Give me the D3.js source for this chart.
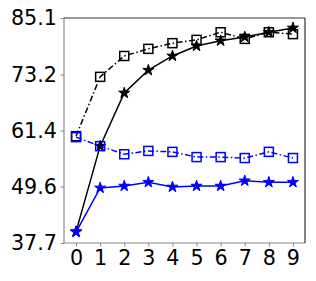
<!DOCTYPE html>
<html>
<head>
<meta charset="utf-8">
<script src="https://cdn.jsdelivr.net/npm/d3@7"></script>
<style>
body { margin: 0; background: #fff; }
svg { display: block; }
</style>
</head>
<body>
<div id="chart"></div>
<script>
// data
var steps = [0, 1, 2, 3, 4, 5, 6, 7, 8, 9];
var yTicks = [37.7, 49.6, 61.4, 73.2, 85.1];
var blackSquare = [60.2, 72.7, 77.1, 78.6, 79.8, 80.5, 82.1, 80.7, 82.1, 81.7];
var blackStar = [40.1, 58.1, 69.3, 74.1, 77.1, 79.2, 80.3, 81.1, 82.1, 83.0];
var blueSquare = [60.0, 58.1, 56.4, 57.1, 56.9, 55.8, 55.8, 55.6, 56.9, 55.6];
var blueStar = [40.0, 49.3, 49.7, 50.5, 49.5, 49.7, 49.7, 50.8, 50.5, 50.5];

var margin = {top: 18, right: 11, bottom: 38, left: 64},
    width = 316 - margin.left - margin.right,
    height = 281 - margin.top - margin.bottom;

var x = d3.scaleLinear().domain([-0.5, 9.5]).range([0, width]);
var y = d3.scaleLinear().domain([37.7, 85.1]).range([height, 0]);

var svg = d3.select("#chart").append("svg")
  .attr("width", 316)
  .attr("height", 281)
  .append("g")
  .attr("transform", "translate(" + margin.left + "," + margin.top + ")");

var font = "DejaVu Sans, sans-serif";

// axes
var xAxis = svg.append("g")
  .attr("transform", "translate(0," + height + ")")
  .call(d3.axisBottom(x).tickValues(steps).tickFormat(d3.format("d")).tickSizeInner(3.5).tickSizeOuter(0).tickPadding(4));
var yAxis = svg.append("g")
  .call(d3.axisLeft(y).tickValues(yTicks).tickFormat(d3.format(".1f")).tickSizeInner(3.5).tickSizeOuter(0).tickPadding(3.5));

[xAxis, yAxis].forEach(function(a) {
  a.select(".domain").remove();
  a.selectAll("line").attr("stroke", "#888").attr("stroke-width", 1);
  a.selectAll("text").attr("fill", "#000").style("font-family", font).style("font-size", "20.7px");
});

// spines
svg.append("line").attr("x1", 0).attr("x2", 0).attr("y1", 0).attr("y2", height).attr("stroke", "#888").attr("stroke-width", 1.2);
svg.append("line").attr("x1", 0).attr("x2", width).attr("y1", height).attr("y2", height).attr("stroke", "#888").attr("stroke-width", 1.2);
svg.append("line").attr("x1", 0).attr("x2", width).attr("y1", 0).attr("y2", 0).attr("stroke", "#333").attr("stroke-width", 1.2);
svg.append("line").attr("x1", width).attr("x2", width).attr("y1", 0).attr("y2", height).attr("stroke", "#333").attr("stroke-width", 1.2);

var line = d3.line()
  .x(function(d, i) { return x(steps[i]); })
  .y(function(d) { return y(d); });

var star = d3.symbol().type(d3.symbolStar).size(38);

function drawSeries(vals, color, dash, marker) {
  svg.append("path")
    .datum(vals)
    .attr("fill", "none")
    .attr("stroke", color)
    .attr("stroke-width", 1.5)
    .attr("stroke-dasharray", dash)
    .attr("d", line);

  if (marker == "square") {
    svg.selectAll(null)
      .data(vals)
      .enter()
      .append("rect")
      .attr("x", function(d, i) { return x(steps[i]) - 4.5; })
      .attr("y", function(d) { return y(d) - 4.5; })
      .attr("width", 9)
      .attr("height", 9)
      .attr("fill", "none")
      .attr("stroke", color)
      .attr("stroke-width", 1.5);
  } else {
    svg.selectAll(null)
      .data(vals)
      .enter()
      .append("path")
      .attr("d", star)
      .attr("transform", function(d, i) { return "translate(" + x(steps[i]) + "," + y(d) + ")"; })
      .attr("fill", color)
      .attr("stroke", color)
      .attr("stroke-width", 1);
  }
}

drawSeries(blackSquare, "#000", "6,2.5,1.5,2.5", "square");
drawSeries(blackStar, "#000", null, "star");
drawSeries(blueSquare, "#0000ff", "6,2.5,1.5,2.5", "square");
drawSeries(blueStar, "#0000ff", null, "star");
</script>
</body>
</html>
